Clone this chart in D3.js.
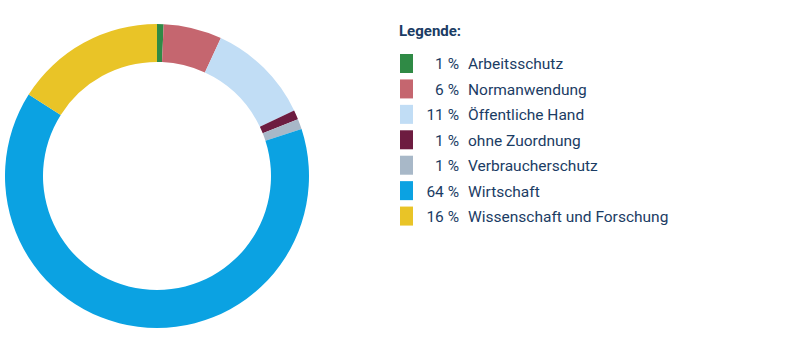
<!DOCTYPE html>
<html>
<head>
<meta charset="utf-8">
<script src="https://cdn.jsdelivr.net/npm/d3@7"></script>
<style>
  body { margin: 0; background: #fff; }
  #chart { width: 801px; height: 351px; }
  text { font-family: Roboto, "Open Sans", sans-serif; }
</style>
</head>
<body>
<div id="chart"></div>
<script>
// Anteile (Leserichtung im Uhrzeigersinn ab 12 Uhr)
const categories = ['Arbeitsschutz', 'Normanwendung', 'Öffentliche Hand', 'ohne Zuordnung',
    'Verbraucherschutz', 'Wirtschaft', 'Wissenschaft und Forschung'];
const shares = [0.7, 6.2, 11.0, 1.0, 1.1, 64.0, 16.0];
const shareLabels = ['1 %', '6 %', '11 %', '1 %', '1 %', '64 %', '16 %'];
const colors = ['#2f8a45', '#c5666f', '#c1ddf5', '#6d1c40', '#a8b8c8', '#0ba2e2', '#e9c427'];

const width = 801, height = 351;
const textColor = '#1b3c64';

const data = categories.map((c, i) => ({ label: c, value: shares[i], text: shareLabels[i] }));

const svg = d3.select('#chart')
    .append('svg')
    .attr('width', width)
    .attr('height', height);

const color = d3.scaleOrdinal()
    .domain(categories)
    .range(colors);

// Donut
const g = svg.append('g')
    .attr('transform', 'translate(157,176)');

const pie = d3.pie()
    .value(d => d.value)
    .sort(null);

const arc = d3.arc()
    .innerRadius(114)
    .outerRadius(152);

g.selectAll('path')
    .data(pie(data))
    .enter()
    .append('path')
    .attr('d', arc)
    .attr('fill', d => color(d.data.label));

// Legende
const legend = svg.append('g')
    .attr('transform', 'translate(400,0)');

legend.append('text')
    .attr('x', -1)
    .attr('y', 36)
    .style('font-size', '15px')
    .style('font-weight', 'bold')
    .style('fill', textColor)
    .text('Legende:');

const rowY = d3.scaleBand()
    .domain(categories)
    .range([54, 232]);

const items = legend.selectAll('.legend-item')
    .data(data)
    .enter()
    .append('g')
    .attr('class', 'legend-item')
    .attr('transform', d => `translate(0,${rowY(d.label)})`);

items.append('rect')
    .attr('width', 13)
    .attr('height', 19)
    .attr('fill', d => color(d.label));

items.append('text')
    .attr('x', 59)
    .attr('y', 10)
    .attr('dy', '.35em')
    .attr('text-anchor', 'end')
    .style('font-size', '15.5px')
    .style('fill', textColor)
    .text(d => d.text);

items.append('text')
    .attr('x', 68)
    .attr('y', 10)
    .attr('dy', '.35em')
    .style('font-size', '15.5px')
    .style('fill', textColor)
    .text(d => d.label);
</script>
</body>
</html>
